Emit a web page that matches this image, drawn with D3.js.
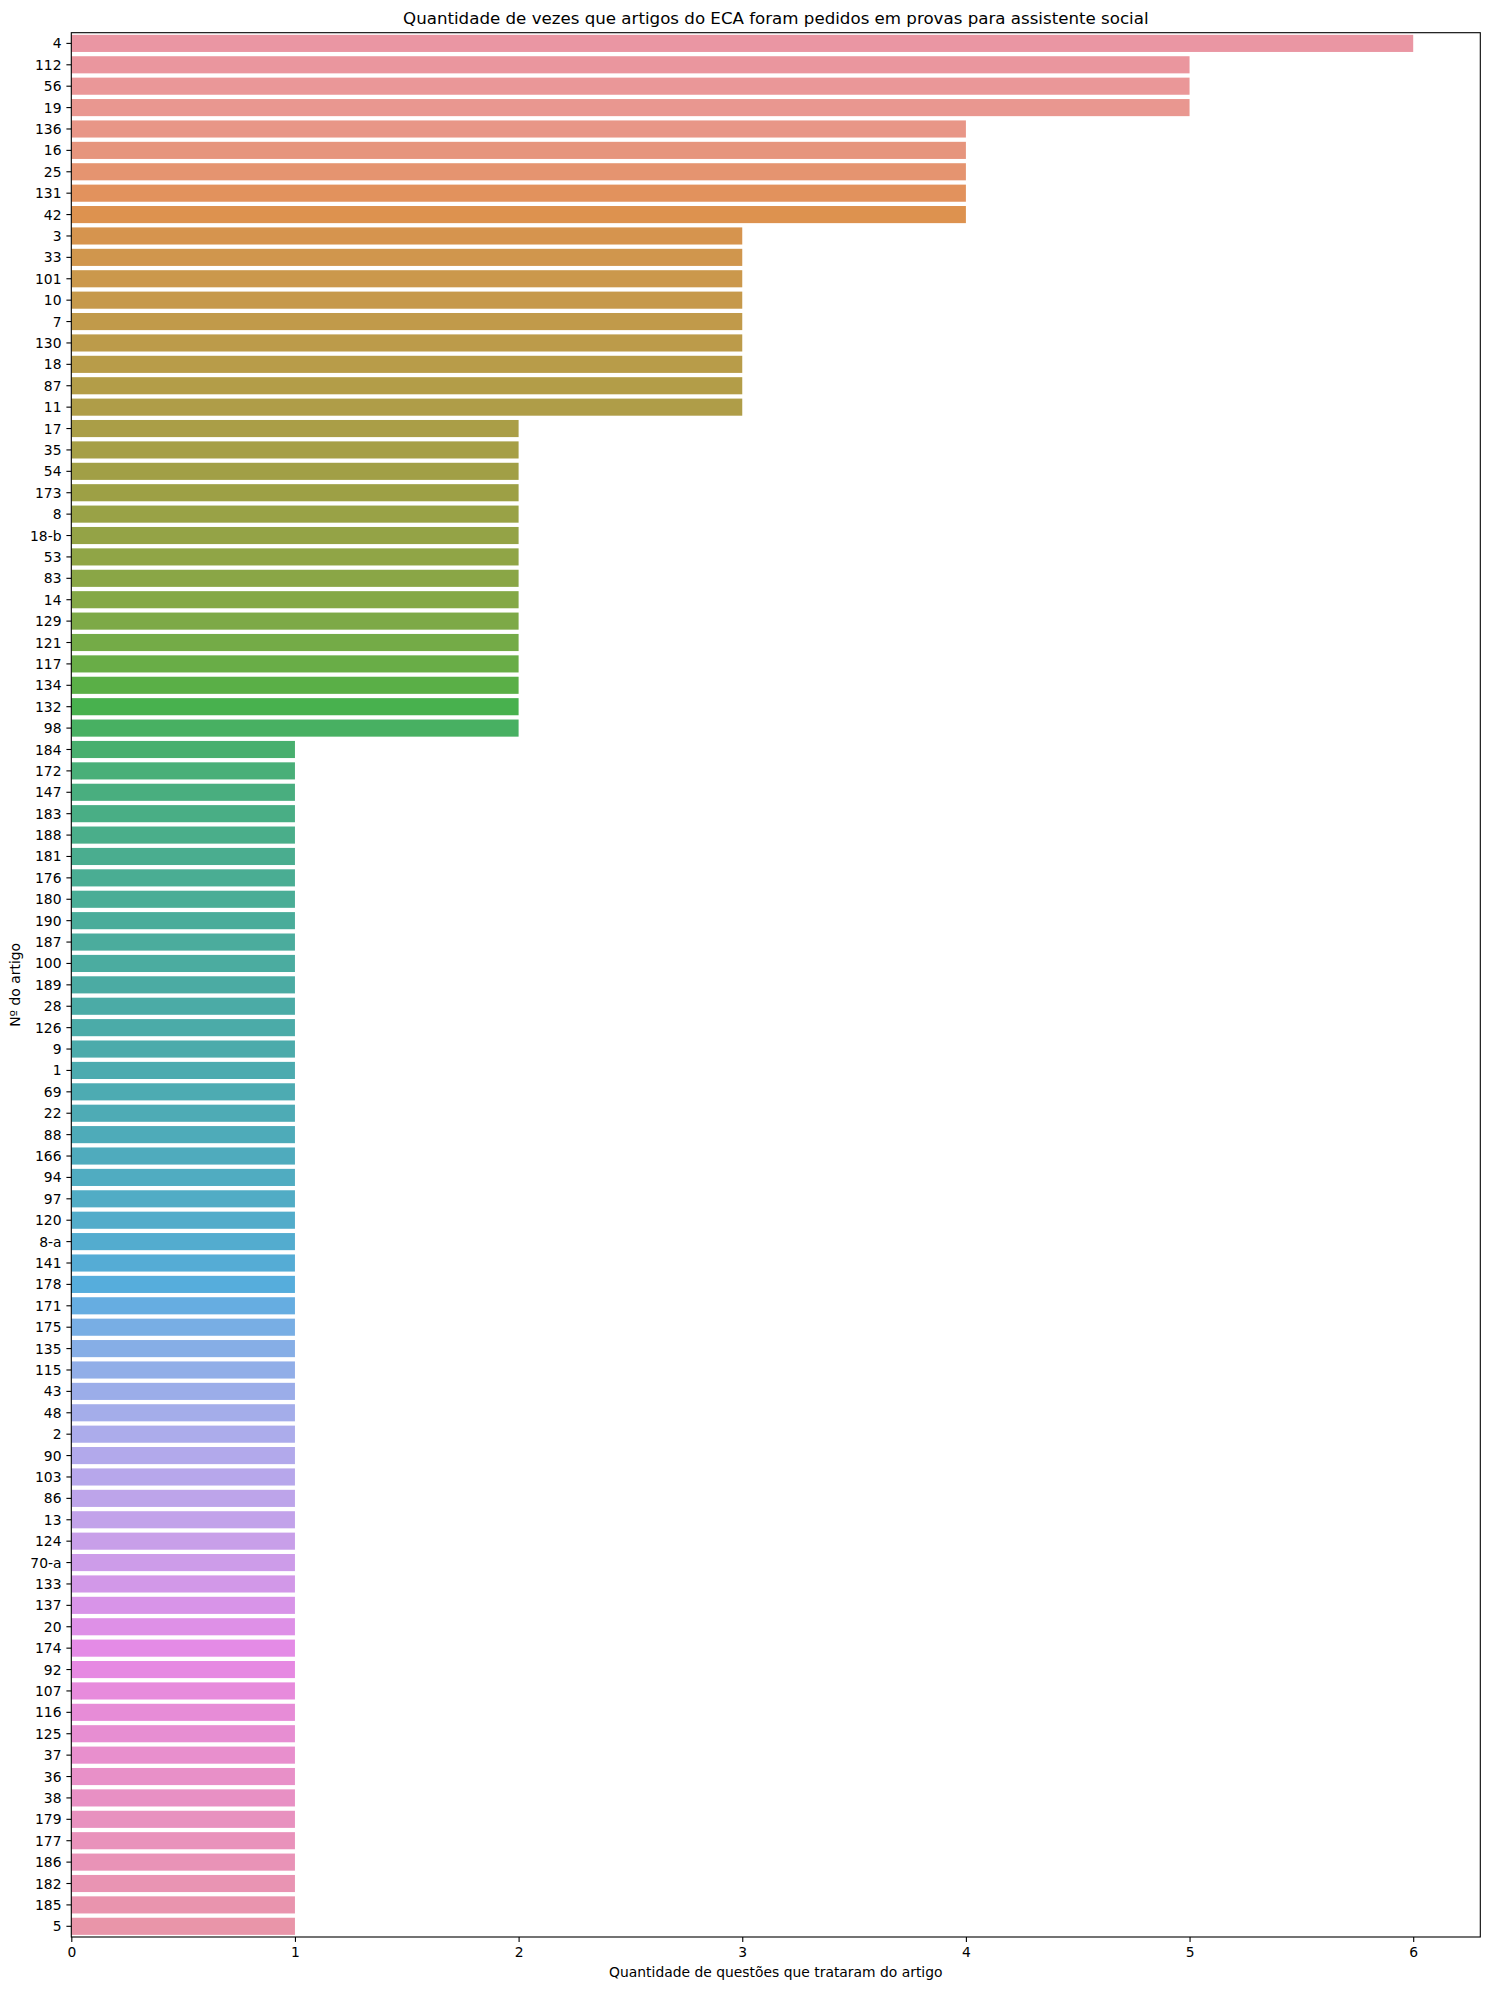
<!DOCTYPE html>
<html><head><meta charset="utf-8">
<script src="https://cdn.jsdelivr.net/npm/d3@7"></script>
<style>body{margin:0;background:#fff;} svg{display:block;} text{font-family:"DejaVu Sans",sans-serif;fill:#000;}</style>
</head><body>
<script>
const categories = ["4","112","56","19","136","16","25","131","42","3","33","101","10","7","130","18","87","11",
"17","35","54","173","8","18-b","53","83","14","129","121","117","134","132","98",
"184","172","147","183","188","181","176","180","190","187","100","189","28","126","9","1","69","22","88","166","94","97","120","8-a","141","178","171","175","135","115","43","48","2","90","103","86","13","124","70-a","133","137","20","174","92","107","116","125","37","36","38","179","177","186","182","185","5"];
const counts = [6,5,5,5,4,4,4,4,4,3,3,3,3,3,3,3,3,3,
2,2,2,2,2,2,2,2,2,2,2,2,2,2,2,
1,1,1,1,1,1,1,1,1,1,1,1,1,1,1,1,1,1,1,1,1,1,1,1,1,1,1,1,1,1,1,1,1,1,1,1,1,1,1,1,1,1,1,1,1,1,1,1,1,1,1,1,1,1,1,1,1];
const xTicks = [0,1,2,3,4,5,6];
const title = "Quantidade de vezes que artigos do ECA foram pedidos em provas para assistente social";
const xLabel = "Quantidade de questões que trataram do artigo";
const yLabel = "Nº do artigo";

// seaborn husl palette (l=.7) + desaturate 0.75
const M = [[3.2406,-1.5372,-0.4986],[-0.9689,1.8758,0.0415],[0.0557,-0.2040,1.0570]];
const refU=0.19784, refV=0.46834, labE=0.008856, labK=903.3;
function maxChroma(L,H){const hr=H*Math.PI/180,s=Math.sin(hr),c=Math.cos(hr);
 const sub1=Math.pow(L+16,3)/1560896, sub2=sub1>0.008856?sub1:L/903.3; let res=Infinity;
 for(const [m1,m2,m3] of M){const top=(0.99915*m1+1.05122*m2+1.14460*m3)*sub2;
  const rb=0.86330*m3-0.17266*m2, lb=0.12949*m3-0.38848*m1, bottom=(rb*s+lb*c)*sub2;
  for(const t of [0,1]){const C=L*(top-1.05122*t)/(bottom+0.17266*s*t); if(C>0&&C<res)res=C;}}
 return res;}
function fInv(t){return Math.pow(t,3)>labE?Math.pow(t,3):(116*t-16)/labK;}
function fromLin(c){return c<=0.0031308?12.92*c:1.055*Math.pow(c,1/2.4)-0.055;}
function huslToRgb(H,S,L){const C=maxChroma(L,H)/100*S; const hr=H*Math.PI/180;
 const U=Math.cos(hr)*C,V=Math.sin(hr)*C; const Y=fInv((L+16)/116);
 const vu=U/(13*L)+refU, vv=V/(13*L)+refV; const X=0-(9*Y*vu)/((vu-4)*vv-vu*vv);
 const Z=(9*Y-15*vv*Y-vv*X)/(3*vv);
 return M.map(r=>Math.min(1,Math.max(0,fromLin(r[0]*X+r[1]*Y+r[2]*Z))));}
function rgbToHls(r,g,b){const mx=Math.max(r,g,b),mn=Math.min(r,g,b);const l=(mx+mn)/2;if(mx===mn)return[0,l,0];
 const s=l<=0.5?(mx-mn)/(mx+mn):(mx-mn)/(2-mx-mn);const rc=(mx-r)/(mx-mn),gc=(mx-g)/(mx-mn),bc=(mx-b)/(mx-mn);
 let h; if(r===mx)h=bc-gc;else if(g===mx)h=2+rc-bc;else h=4+gc-rc; h=((h/6)%1+1)%1; return[h,l,s];}
function v(m1,m2,h){h=((h%1)+1)%1;if(h<1/6)return m1+(m2-m1)*h*6;if(h<0.5)return m2;if(h<2/3)return m1+(m2-m1)*(2/3-h)*6;return m1;}
function hlsToRgb(h,l,s){if(s===0)return[l,l,l];const m2=l<=0.5?l*(1+s):l+s-l*s;const m1=2*l-m2;return[v(m1,m2,h+1/3),v(m1,m2,h),v(m1,m2,h-1/3)];}
function palette(n){const out=[];for(let i=0;i<n;i++){let h=(i/n+0.01)%1;h*=359;
 const rgb=huslToRgb(h,0.9*99,0.7*99);const [hh,ll,ss]=rgbToHls(...rgb);const d=hlsToRgb(hh,ll,ss*0.75);
 out.push(d3.rgb(d[0]*255,d[1]*255,d[2]*255).formatHex());}return out;}
const colors = palette(categories.length);

const W=1489,H=1990;
const m={left:71.3,right:1480.3,top:32.7,bottom:1937};
const svg=d3.select("body").append("svg").attr("width",W).attr("height",H);
const x=d3.scaleLinear().domain([0,6.3]).range([m.left,m.right]);
const y=d3.scaleBand().domain(categories).range([m.top,m.bottom]).paddingInner(0.2).paddingOuter(0.1);

svg.append("g").selectAll("rect").data(categories).join("rect")
 .attr("x",x(0)).attr("y",d=>y(d)).attr("height",y.bandwidth())
 .attr("width",(d,i)=>x(counts[i])-x(0)).attr("fill",(d,i)=>colors[i]);

const fs=13.89;
const xAxis=svg.append("g").attr("transform",`translate(0,${m.bottom})`)
 .call(d3.axisBottom(x).tickValues(xTicks).tickFormat(d3.format("d")).tickSize(4.9).tickPadding(4.9));
const yAxis=svg.append("g").attr("transform",`translate(${m.left},0)`)
 .call(d3.axisLeft(y).tickSize(4.9).tickPadding(4.9));
[xAxis,yAxis].forEach(a=>{a.select(".domain").remove();a.selectAll(".tick line").attr("stroke","#000").attr("stroke-width",1.1);
 a.selectAll(".tick text").attr("font-size",fs).attr("font-family","DejaVu Sans");});
yAxis.selectAll(".tick text").attr("dy","0.36em");

svg.append("rect").attr("x",m.left).attr("y",m.top).attr("width",m.right-m.left).attr("height",m.bottom-m.top)
 .attr("fill","none").attr("stroke","#000").attr("stroke-width",1.1);

svg.append("text").attr("x",(m.left+m.right)/2).attr("y",24).attr("text-anchor","middle").attr("font-size",16.67).text(title);
svg.append("text").attr("x",(m.left+m.right)/2).attr("y",1976.5).attr("text-anchor","middle").attr("font-size",fs).text(xLabel);
svg.append("text").attr("transform",`translate(20,${(m.top+m.bottom)/2}) rotate(-90)`).attr("text-anchor","middle").attr("font-size",fs).text(yLabel);
</script>
</body></html>
